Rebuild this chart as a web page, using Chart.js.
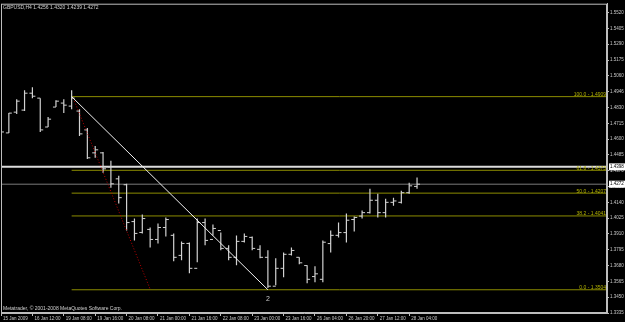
<!DOCTYPE html>
<html>
<head>
<meta charset="utf-8">
<script src="https://cdn.jsdelivr.net/npm/chart.js@4.4.1/dist/chart.umd.min.js"></script>
<style>
  html, body { margin: 0; padding: 0; background: #000; }
  #wrap { width: 625px; height: 322px; }
</style>
</head>
<body>
<div id="wrap"><canvas id="priceChart" width="625" height="322"></canvas></div>
<script>
// GBPUSD H4 bars, one per 4 hours
const headerText = 'GBPUSD,H4 1.4256 1.4320 1.4239 1.4272';
const copyrightText = 'Metatrader, \u00a9 2001-2008 MetaQuotes Software Corp.';

const barOpen = [
    1.4645, 1.4645, 1.4796, 1.4811, 1.4934, 1.4898, 1.4688, 1.4833, 1.4862, 1.4840,
    1.4804, 1.4667, 1.4500, 1.4500, 1.4398, 1.4311, 1.4268, 1.4000, 1.3921, 1.3943,
    1.3870, 1.3957, 1.3900, 1.3754, 1.3841, 1.3660, 1.3993, 1.3870, 1.3935, 1.3805,
    1.3740, 1.3856, 1.3885, 1.3798, 1.3740, 1.3530, 1.3660, 1.3762, 1.3740, 1.3680,
    1.3600, 1.3580, 1.3840, 1.3900, 1.3920, 1.4015, 1.4040, 1.4065, 1.4155, 1.4065,
    1.4140, 1.4140, 1.4210, 1.4256
];
const barHigh = [
    1.4673, 1.4789, 1.4890, 1.4956, 1.4977, 1.4898, 1.4760, 1.4883, 1.4890, 1.4956,
    1.4818, 1.4681, 1.4550, 1.4507, 1.4442, 1.4333, 1.4275, 1.4022, 1.4051, 1.3957,
    1.3986, 1.4029, 1.3914, 1.3856, 1.3848, 1.4022, 1.4022, 1.3979, 1.3921, 1.3827,
    1.3899, 1.3914, 1.3892, 1.3827, 1.3791, 1.3733, 1.3776, 1.3812, 1.3740, 1.3682,
    1.3675, 1.3863, 1.3935, 1.3993, 1.4058, 1.4037, 1.4080, 1.4239, 1.4203, 1.4167,
    1.4174, 1.4225, 1.4283, 1.4320
];
const barLow = [
    1.4637, 1.4645, 1.4782, 1.4804, 1.4898, 1.4652, 1.4688, 1.4833, 1.4789, 1.4818,
    1.4623, 1.4456, 1.4464, 1.4355, 1.4246, 1.4131, 1.3935, 1.3863, 1.3914, 1.3812,
    1.3841, 1.3892, 1.3711, 1.3718, 1.3624, 1.3704, 1.3827, 1.3899, 1.3791, 1.3718,
    1.3682, 1.3848, 1.3791, 1.3733, 1.3516, 1.3537, 1.3595, 1.3754, 1.3689, 1.3552,
    1.3559, 1.3559, 1.3776, 1.3885, 1.3848, 1.3928, 1.4022, 1.4058, 1.4029, 1.4029,
    1.4116, 1.4131, 1.4203, 1.4239
];
const barClose = [
    1.4652, 1.4789, 1.4876, 1.4934, 1.4912, 1.4667, 1.4745, 1.4876, 1.4847, 1.4898,
    1.4638, 1.4464, 1.4522, 1.4384, 1.4275, 1.4174, 1.3993, 1.3914, 1.4022, 1.3870,
    1.3957, 1.4015, 1.3740, 1.3841, 1.3660, 1.3993, 1.3863, 1.3950, 1.3805, 1.3740,
    1.3856, 1.3892, 1.3805, 1.3740, 1.3530, 1.3660, 1.3762, 1.3790, 1.3700, 1.3580,
    1.3620, 1.3850, 1.3900, 1.3920, 1.4010, 1.4030, 1.4065, 1.4155, 1.4065, 1.4140,
    1.4150, 1.4210, 1.4260, 1.4272
];

const timeLabelBars = [0, 4, 8, 12, 16, 20, 24, 28, 32, 36, 40, 44, 48, 52];
const timeLabels = [
    '15 Jan 2009', '16 Jan 12:00', '19 Jan 08:00', '19 Jan 16:00', '20 Jan 08:00',
    '21 Jan 00:00', '21 Jan 16:00', '22 Jan 08:00', '23 Jan 00:00', '23 Jan 16:00',
    '26 Jan 04:00', '26 Jan 20:00', '27 Jan 12:00', '28 Jan 04:00'
];
const priceTicks = [
    1.5520, 1.5405, 1.5290, 1.5175, 1.5060, 1.4946, 1.4830, 1.4715, 1.4600, 1.4485,
    1.4370, 1.4255, 1.4140, 1.4025, 1.3910, 1.3795, 1.3680, 1.3565, 1.3450, 1.3335
];

// fibonacci retracement drawn from bar 9 to bar 34
const fibRatios = ['100.0', '61.8', '50.0', '38.2', '0.0'];
const fibPrices = [1.4909, 1.4373, 1.4207, 1.4041, 1.3504];
const fibStartBar = 9;
const trendBars = [9, 34];
const trendPrices = [1.4909, 1.3504];
const redLineBars = [9.2, 19];
const redLinePrices = [1.4898, 1.3508];
const levelPrice = 1.4398;
const bidPrice = 1.4272;

const X_MIN = 0, X_MAX = 77.2;
const Y_MIN = 1.3335, Y_MAX = 1.5585;

const barColor = '#d2d2d2';
const axisColor = '#bdbdbd';
const fibColor = '#8c8c00';
const fibTextColor = '#b4b400';
const tinyFont = '"Liberation Sans", Arial, sans-serif';

const tick = 0.38;
const hlPoints = [], openPoints = [], closePoints = [];
for (let i = 0; i < barHigh.length; i++) {
    hlPoints.push({x: i, y: barLow[i]}, {x: i, y: barHigh[i]}, {x: i, y: null});
    openPoints.push({x: i - tick, y: barOpen[i]}, {x: i, y: barOpen[i]}, {x: i, y: null});
    closePoints.push({x: i, y: barClose[i]}, {x: i + tick, y: barClose[i]}, {x: i + tick, y: null});
}

function lineSet(points, color, width, order, dash) {
    return {
        data: points,
        borderColor: color,
        borderWidth: width,
        borderDash: dash || [],
        pointRadius: 0,
        fill: false,
        tension: 0,
        spanGaps: false,
        order: order
    };
}

const datasets = [
    lineSet(hlPoints, barColor, 1.2, 1),
    lineSet(openPoints, barColor, 1, 1),
    lineSet(closePoints, barColor, 1, 1),
    lineSet([{x: trendBars[0], y: trendPrices[0]}, {x: trendBars[1], y: trendPrices[1]}], '#f2f2f2', 1, 0),
    lineSet([{x: redLineBars[0], y: redLinePrices[0]}, {x: redLineBars[1], y: redLinePrices[1]}], '#c00000', 1, 0, [1, 2]),
    lineSet([{x: X_MIN, y: levelPrice}, {x: X_MAX, y: levelPrice}], '#dcdcdc', 2, 5),
    lineSet([{x: X_MIN, y: bidPrice}, {x: X_MAX, y: bidPrice}], '#7a7a7a', 1, 5)
];
fibPrices.forEach(function(p) {
    datasets.push(lineSet([{x: fibStartBar, y: p}, {x: X_MAX, y: p}], fibColor, 1, 4));
});

const overlayPlugin = {
    id: 'overlay',
    afterDraw(chart) {
        const ctx = chart.ctx;
        const a = chart.chartArea;
        const xs = chart.scales.x;
        const ys = chart.scales.y;
        ctx.save();
        ctx.strokeStyle = axisColor;
        ctx.lineWidth = 1;
        ctx.strokeRect(a.left + 0.5, a.top + 0.5, a.right - a.left - 1, a.bottom - a.top - 1);

        ctx.fillStyle = '#d0d0d0';
        ctx.font = '5px ' + tinyFont;
        ctx.textBaseline = 'middle';
        ctx.textAlign = 'left';
        ctx.fillText(headerText, a.left + 2, a.top + 4);
        ctx.fillText(copyrightText, a.left + 2, a.bottom - 4);

        // fib level captions
        ctx.fillStyle = fibTextColor;
        ctx.textAlign = 'right';
        ctx.textBaseline = 'bottom';
        fibPrices.forEach(function(p, i) {
            ctx.fillText(fibRatios[i] + ' - ' + p.toFixed(4), a.right - 1, ys.getPixelForValue(p) + 0.5);
        });

        // wave mark under the low
        ctx.fillStyle = '#c8c8c8';
        ctx.textAlign = 'center';
        ctx.textBaseline = 'middle';
        ctx.font = '7px ' + tinyFont;
        ctx.fillText('2', xs.getPixelForValue(trendBars[1]), ys.getPixelForValue(trendPrices[1]) + 9);

        // price boxes on the scale
        ctx.font = '4.5px ' + tinyFont;
        ctx.textAlign = 'left';
        [levelPrice, bidPrice].forEach(function(p) {
            const py = ys.getPixelForValue(p);
            ctx.fillStyle = '#ffffff';
            ctx.fillRect(a.right + 2, py - 3.5, 16, 7);
            ctx.fillStyle = '#000000';
            ctx.fillText(p.toFixed(4), a.right + 3, py);
        });
        ctx.restore();
    }
};

new Chart(document.getElementById('priceChart'), {
    type: 'line',
    data: { datasets: datasets },
    options: {
        responsive: false,
        animation: false,
        events: [],
        layout: { padding: { left: 1, top: 2, right: 0, bottom: 0 } },
        plugins: { legend: { display: false }, tooltip: { enabled: false } },
        scales: {
            x: {
                type: 'linear',
                min: X_MIN,
                max: X_MAX,
                afterBuildTicks: function(scale) {
                    scale.ticks = timeLabelBars.map(function(v) { return {value: v}; });
                },
                afterFit: function(scale) { scale.height = 9; },
                grid: { display: true, drawOnChartArea: false, drawTicks: true, tickLength: 3, color: axisColor },
                border: { display: true, color: axisColor },
                ticks: {
                    autoSkip: false,
                    maxRotation: 0,
                    align: 'start',
                    labelOffset: 2,
                    padding: 0,
                    color: '#c8c8c8',
                    font: { size: 4.5, family: tinyFont },
                    callback: function(v) { return timeLabels[timeLabelBars.indexOf(v)]; }
                }
            },
            y: {
                position: 'right',
                min: Y_MIN,
                max: Y_MAX,
                afterBuildTicks: function(scale) {
                    scale.ticks = priceTicks.map(function(v) { return {value: v}; });
                },
                afterFit: function(scale) { scale.width = 18; },
                grid: { display: true, drawOnChartArea: false, drawTicks: true, tickLength: 2, color: axisColor },
                border: { display: true, color: axisColor },
                ticks: {
                    padding: 1,
                    color: '#c8c8c8',
                    font: { size: 4.5, family: tinyFont },
                    callback: function(v) { return v.toFixed(4); }
                }
            }
        }
    },
    plugins: [overlayPlugin]
});
</script>
</body>
</html>
